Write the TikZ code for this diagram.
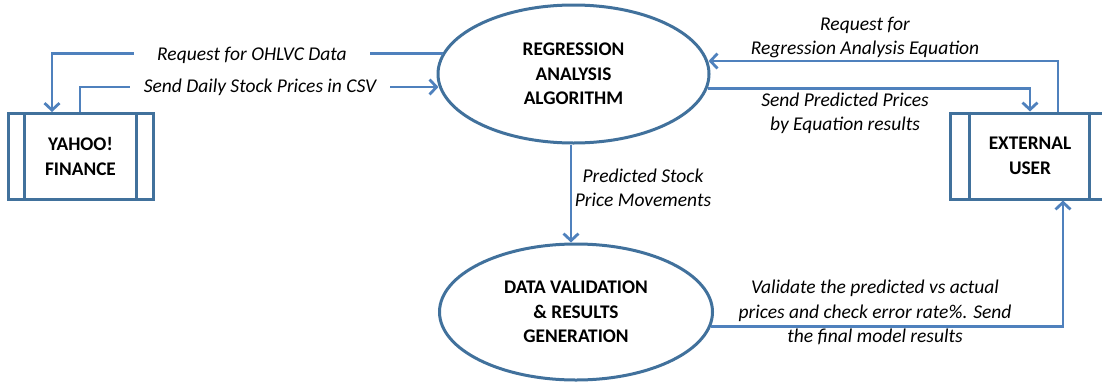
\documentclass[tikz,border=0pt]{standalone}
\usepackage{fontspec}
\setmainfont{Carlito}
\usetikzlibrary{shapes.geometric,arrows.meta,calc}
\definecolor{flow}{RGB}{79,129,189}
\definecolor{edgeblue}{RGB}{65,113,156}
\begin{document}
\begin{tikzpicture}[x=1pt,y=-1pt,
  proc/.style={ellipse, draw=edgeblue, line width=3pt, fill=white, inner sep=0pt,
    align=center, font=\bfseries\fontsize{19.3}{24.5}\selectfont},
  ent/.style={rectangle, draw=edgeblue, line width=3pt, inner sep=0pt,
    align=center, font=\bfseries\fontsize{19.3}{24.5}\selectfont},
  bar/.style={draw=edgeblue, line width=3pt},
  flowline/.style={draw=flow, line width=2.8pt, -{Straight Barb[length=7pt,width=15pt]}},
  lbl/.style={font=\itshape\fontsize{19.5}{24.5}\selectfont, align=center, text=black, inner sep=0pt},
  gap/.style={fill=white, inner ysep=3pt}
]
\useasboundingbox (0,0) rectangle (1102,383);

% processes
\node[proc, minimum width=271pt, minimum height=138pt] (ra) at (573.5,74) {REGRESSION\\ANALYSIS\\ALGORITHM};
\node[proc, minimum width=273pt, minimum height=136pt] (dv) at (576,312) {DATA VALIDATION\\\& RESULTS\\GENERATION};

% entities
\node[ent, minimum width=145pt, minimum height=86pt] (yf) at (80.5,156.5) {YAHOO!\\FINANCE};
\draw[bar] ($(yf.north west)+(18,0)$) -- ($(yf.south west)+(18,0)$);
\draw[bar] ($(yf.north east)+(-18,0)$) -- ($(yf.south east)+(-18,0)$);

\node[ent, minimum width=160pt, minimum height=86pt] (eu) at (1030,156) {EXTERNAL\\USER};
\draw[bar] ($(eu.north west)+(21,0)$) -- ($(eu.south west)+(21,0)$);
\draw[bar] ($(eu.north east)+(-22,0)$) -- ($(eu.south east)+(-22,0)$);

% coordinates for bends
\coordinate (c1) at (52,55);
\coordinate (c2) at (80,87);
\coordinate (c3) at (1058,61);
\coordinate (c4) at (1030,88);
\coordinate (c5) at (1063,326);

% connectors
\draw[flowline] (ra.171.7) -- (ra.171.7 -| c1) -- (c1 |- yf.north);
\draw[flowline] (c2 |- yf.north) -- (c2) -- (c2 -| ra.185.6);
\draw[flowline] (c3 |- eu.north) -- (c3) -- (c3 -| ra.5.6);
\draw[flowline] (ra.354) -- (ra.354 -| c4) -- (c4 |- eu.north);
\draw[flowline] (ra.south -| 571,0) -- (dv.north -| 571,0);
\draw[flowline] (dv.354) -- (dv.354 -| c5) -- (c5 |- eu.south);

% labels on broken lines
\node[lbl, gap, inner xsep=23pt] (l1) at (252,55) {Request for OHLVC Data};
\node[lbl, gap, inner xsep=14pt] (l2) at (260,87) {Send Daily Stock Prices in CSV};

% other labels
\node[lbl] (l3) at (865,37.5) {Request for\\Regression Analysis Equation};
\node[lbl] (l4) at (845,113.5) {Send Predicted Prices\\by Equation results};
\node[lbl] (l5) at (643,188) {Predicted Stock\\Price Movements};
\node[lbl] (l6) at (875,312.5) {Validate the predicted vs actual\\prices and check error rate\%. Send\\the final model results};
\end{tikzpicture}
\end{document}
